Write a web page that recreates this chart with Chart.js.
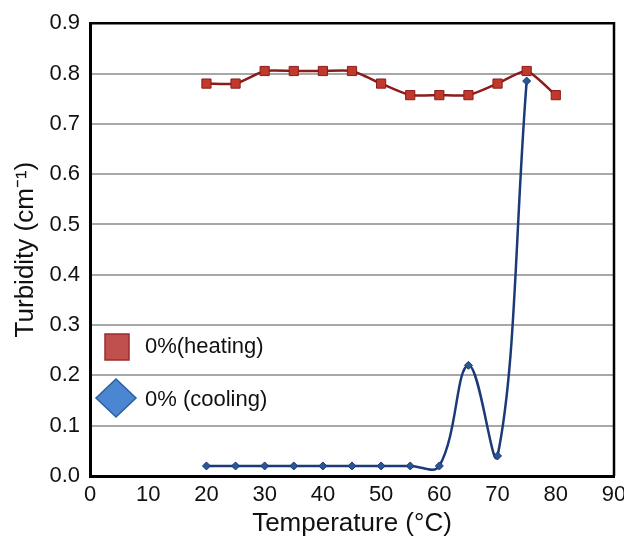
<!DOCTYPE html>
<html>
<head>
<meta charset="utf-8">
<script src="https://cdn.jsdelivr.net/npm/chart.js@4.4.1/dist/chart.umd.min.js"></script>
<style>
  html, body { margin: 0; padding: 0; background: #fff; }
  #wrap { width: 624px; height: 537px; }
</style>
</head>
<body>
<div id="wrap"><canvas id="myChart" width="624" height="537"></canvas></div>
<script>
// temperatures (°C)
var temps = [20, 25, 30, 35, 40, 45, 50, 55, 60, 65, 70, 75, 80];
var heating = [0.78, 0.78, 0.805, 0.805, 0.805, 0.805, 0.78, 0.757, 0.757, 0.757, 0.78, 0.805, 0.757];
var coolTemps = [20, 25, 30, 35, 40, 45, 50, 55, 60, 65, 70, 75];
var cooling = [0.02, 0.02, 0.02, 0.02, 0.02, 0.02, 0.02, 0.02, 0.02, 0.22, 0.04, 0.785];
var legendLabels = ['0%(heating)', '0% (cooling)'];

var FONT = '"Liberation Sans", Arial, sans-serif';

function pts(xs, ys) {
    return xs.map(function (x, i) { return { x: x, y: ys[i] }; });
}

// top/right frame + legend drawn inside the plot
const framePlugin = {
    id: 'frame',
    afterDraw: function (chart) {
        const c = chart.ctx, a = chart.chartArea;
        c.save();
        c.strokeStyle = '#000';
        c.lineWidth = 2.5;
        c.beginPath();
        c.moveTo(a.left, a.top);
        c.lineTo(a.right, a.top);
        c.lineTo(a.right, a.bottom);
        c.stroke();

        // legend
        c.fillStyle = '#c0504d';
        c.strokeStyle = '#9b2d2a';
        c.lineWidth = 1.5;
        c.fillRect(105, 334, 24, 26);
        c.strokeRect(105, 334, 24, 26);

        c.fillStyle = '#4a86d2';
        c.strokeStyle = '#2f5f9e';
        c.beginPath();
        c.moveTo(116, 379);
        c.lineTo(136, 398);
        c.lineTo(116, 417);
        c.lineTo(96, 398);
        c.closePath();
        c.fill();
        c.stroke();

        c.fillStyle = '#111';
        c.font = '22px ' + FONT;
        c.textBaseline = 'middle';
        c.fillText(legendLabels[0], 145, 347);
        c.fillText(legendLabels[1], 145, 400);
        c.restore();
    }
};

const ctx = document.getElementById('myChart').getContext('2d');
const myChart = new Chart(ctx, {
    type: 'line',
    data: {
        datasets: [{
            label: legendLabels[0],
            data: pts(temps, heating),
            borderColor: '#8b1c1c',
            borderWidth: 2.5,
            tension: 0.2,
            pointStyle: 'rect',
            pointRadius: 6.5,
            pointBackgroundColor: '#c0392b',
            pointBorderColor: '#8b1c1c',
            pointBorderWidth: 1
        }, {
            label: legendLabels[1],
            data: pts(coolTemps, cooling),
            borderColor: '#1a3a78',
            borderWidth: 2.5,
            tension: 0.4,
            pointStyle: 'rectRot',
            pointRadius: 4,
            pointBackgroundColor: '#2a5694',
            pointBorderColor: '#1a3a78',
            pointBorderWidth: 1
        }]
    },
    options: {
        responsive: false,
        animation: false,
        layout: { padding: { top: 21, right: 0, left: 0, bottom: 0 } },
        plugins: {
            legend: { display: false },
            tooltip: { enabled: false }
        },
        scales: {
            x: {
                type: 'linear',
                min: 0,
                max: 90,
                ticks: {
                    stepSize: 10,
                    padding: 6,
                    color: '#111',
                    font: { family: FONT, size: 22 }
                },
                grid: { display: false, drawTicks: false },
                border: { display: true, color: '#000', width: 3 },
                title: {
                    display: true,
                    text: 'Temperature (°C)',
                    color: '#111',
                    padding: { top: 0, bottom: 0 },
                    font: { family: FONT, size: 26, lineHeight: 1 }
                },
                afterFit: function (s) {
                    s.height = 61;
                    s.paddingLeft = 0;
                    s.paddingRight = 10;
                }
            },
            y: {
                min: 0,
                max: 0.9,
                ticks: {
                    stepSize: 0.1,
                    padding: 10,
                    color: '#111',
                    font: { family: FONT, size: 22 },
                    callback: function (v) { return v.toFixed(1); }
                },
                grid: {
                    drawTicks: false,
                    lineWidth: 2,
                    color: function (c) {
                        var v = c.tick ? c.tick.value : 0;
                        return (v < 0.05 || v > 0.85) ? 'rgba(0,0,0,0)' : '#a8a8a8';
                    }
                },
                border: { display: true, color: '#000', width: 3 },
                title: {
                    display: true,
                    text: 'Turbidity (cm⁻¹)',
                    color: '#111',
                    padding: { top: 13, bottom: 0 },
                    font: { family: FONT, size: 26, lineHeight: 1 }
                },
                afterFit: function (s) { s.width = 90; }
            }
        }
    },
    plugins: [framePlugin]
});
</script>
</body>
</html>
